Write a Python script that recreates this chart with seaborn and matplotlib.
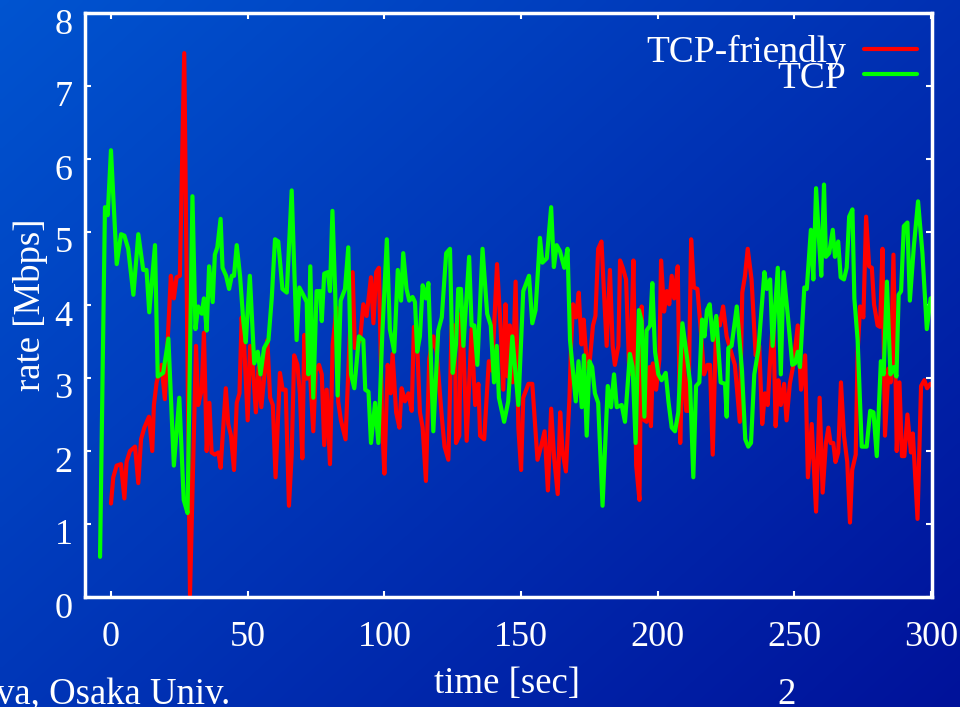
import numpy as np
import pandas as pd
import matplotlib
matplotlib.use("Agg")
import matplotlib.pyplot as plt
import matplotlib.transforms as mtransforms
from matplotlib.colors import LinearSegmentedColormap
import seaborn as sns

# ---------------- data ----------------
friendly_time = [0, 0.85, 2.07, 3.66, 4.9, 5.7, 6.95, 8.8, 10.0, 11.0, 12.2, 13.9, 15.1, 15.7, 16.7, 18.5, 19.7,
                 21.9, 23.0, 24.0, 25.2, 26.8, 28.9, 31.1, 31.9, 33.2, 34.0, 35.0, 36.0, 36.8, 38.0, 39.3, 40.1,
                 42.0, 42.9, 43.9, 45.0, 46.0, 47.0, 47.8, 48.7, 50.0, 50.9, 51.7, 53.0, 54.0, 55.0, 56.4, 57.2,
                 58.2, 59.2, 60.2, 61.8, 62.8, 63.9, 65.1, 66.1, 67.0, 68.2, 69.1, 70.0, 70.7, 71.6, 72.8, 74.0,
                 74.9, 76.1, 77.1, 78.0, 78.9, 80.1, 81.1, 82.5, 83.1, 84.1, 85.8, 87.2, 88.4, 89.2, 91.1, 92.3,
                 93.5, 95.1, 96.0, 97.0, 98.0, 99.2, 100.0, 101.2, 102.3, 103.0, 104.3, 105.5, 106.3, 107.5, 108.8,
                 110.0, 110.8, 112.1, 113.0, 114.0, 115.2, 116.4, 117.9, 119.1, 121.0, 122.0, 123.4, 124.6, 125.8,
                 126.2, 127.4, 128.0, 128.9, 130.1, 131.9, 133.2, 134.4, 135.0, 136.5, 138.2, 139.4, 141.2, 142.5,
                 143.5, 144.3, 145.1, 145.9, 146.9, 148.0, 149.0, 150.0, 150.8, 152.7, 154.1, 156.0, 157.3, 158.6,
                 159.8, 161.0, 162.1, 163.4, 164.3, 165.2, 166.4, 167.7, 168.3, 169.0, 170.1, 171.1, 172.1, 172.9,
                 173.9, 174.8, 176.3, 177.2, 178.2, 179.4, 181.3, 182.5, 183.5, 184.3, 185.6, 186.2, 187.2, 188.4,
                 189.6, 190.2, 191.1, 192.1, 193.3, 194.1, 195.1, 195.9, 197.0, 197.5, 198.2, 199.4, 200.6, 201.2,
                 202.3, 203.3, 204.2, 205.1, 206.0, 207.3, 208.2, 209.2, 210.4, 211.2, 212.2, 213.2, 214.5, 215.7,
                 216.9, 218.2, 219.1, 220.1, 221.4, 222.7, 223.9, 225.2, 226.4, 228.2, 230.0, 230.9, 231.9, 232.9,
                 234.3, 235.8, 237.1, 238.2, 239.2, 240.2, 241.0, 242.2, 243.1, 244.1, 245.0, 246.2, 247.1, 248.3,
                 249.6, 251.2, 252.4, 253.9, 254.9, 256.3, 257.9, 259.2, 260.3, 261.5, 262.4, 263.2, 264.2, 265.0,
                 266.0, 267.0, 268.1, 269.3, 270.3, 271.1, 272.4, 273.1, 274.0, 275.2, 276.2, 277.3, 278.3, 279.1,
                 280.4, 281.3, 282.2, 283.1, 284.4, 285.2, 286.2, 287.4, 288.4, 289.3, 290.2, 291.3, 292.6, 293.3,
                 295.0, 296.3, 297.5, 298.5, 299.7]
friendly_rate = [1.28, 1.64, 1.80, 1.82, 1.35, 1.85, 2.00, 2.06, 1.56, 2.16, 2.32, 2.47, 2.00, 2.63, 2.94, 3.18, 2.71,
                 4.40, 4.09, 4.38, 4.40, 7.45, 0.03, 3.44, 2.63, 2.84, 3.62, 2.00, 2.66, 1.98, 1.95, 1.98, 1.77,
                 2.86, 2.37, 2.21, 1.74, 2.66, 2.79, 3.83, 3.46, 2.42, 3.44, 3.26, 2.53, 3.15, 2.60, 3.15, 3.52,
                 2.73, 2.63, 1.64, 3.07, 2.84, 2.84, 1.25, 1.95, 3.31, 3.18, 2.79, 1.90, 3.59, 2.99, 3.05, 2.27,
                 3.10, 3.18, 3.05, 2.08, 2.84, 1.82, 3.46, 3.96, 2.68, 2.42, 2.16, 3.46, 4.45, 3.41, 3.52, 4.01,
                 3.85, 4.38, 3.75, 4.45, 4.51, 2.37, 1.69, 3.18, 2.79, 3.33, 2.53, 2.32, 2.86, 2.68, 2.79,
                 2.55, 3.70, 3.36, 2.53, 2.32, 1.59, 3.26, 3.57, 3.36, 2.47, 2.06, 1.88, 3.72, 3.72,
                 2.11, 2.21, 3.88, 3.46, 2.14, 3.67, 2.63, 2.92, 2.21, 2.16, 3.23, 3.10, 4.56, 3.70,
                 2.84, 4.01, 3.02, 3.72, 2.94, 4.32, 2.32, 1.74, 2.73, 2.92, 2.92, 1.88, 2.06, 2.27,
                 1.46, 2.58, 1.90, 1.41, 2.53, 1.98, 1.72, 2.73, 3.46, 4.01, 3.83, 4.17, 3.46, 3.80,
                 3.26, 3.10, 3.72, 3.85, 4.77, 4.87, 3.44, 4.48, 3.44, 3.18, 3.44, 4.61, 4.51, 4.35,
                 3.05, 3.36, 4.61, 1.80, 1.33, 3.98, 2.42, 2.40, 3.15, 2.34, 3.20, 2.84, 3.26, 4.61,
                 3.91, 4.19, 4.01, 4.40, 4.09, 4.53, 2.11, 3.46, 2.55, 2.55, 4.90, 4.24, 4.22, 3.67,
                 3.05, 3.18, 3.18, 1.95, 3.83, 3.72, 3.98, 3.57, 3.41, 3.18, 2.40, 4.17, 4.40, 4.77,
                 4.35, 3.31, 3.44, 2.37, 2.79, 2.63, 3.18, 3.83, 2.34, 2.97, 2.63, 2.92, 2.42, 2.92,
                 3.18, 3.72, 2.84, 3.31, 1.64, 2.37, 1.17, 2.73, 1.43, 2.11, 2.32, 2.11, 2.11, 1.85,
                 1.98, 2.94, 2.21, 1.85, 1.02, 1.74, 1.95, 3.36, 3.98, 3.83, 5.21, 4.53, 4.51, 4.01,
                 3.72, 3.70, 4.77, 2.21, 3.13, 2.94, 4.69, 2.00, 2.94, 1.93, 1.93, 2.50, 1.98, 2.24,
                 1.07, 2.89, 2.97, 2.86, 2.92]

tcp_time = [-4.0, -2.2, -1.2, 0, 2.1, 3.7, 4.9, 6.3, 8.2, 10.0, 11.8, 13.0, 14.0, 16.1, 17.1, 19.1, 21.0, 23.0,
            25.0, 26.6, 28.0, 29.8, 30.9, 31.9, 33.2, 34.0, 35.0, 35.9, 37.2, 38.0, 38.9, 40.1, 40.8, 42.1, 43.2,
            44.2, 45.0, 46.0, 47.2, 48.4, 49.3, 50.8, 52.4, 53.7, 54.7, 56.0, 57.6, 58.8, 60.0, 61.2, 62.7, 64.3,
            66.1, 67.9, 68.9, 70.3, 71.6, 72.2, 72.9, 74.0, 75.2, 76.5, 77.1, 78.0, 79.3, 80.1, 81.0, 82.0, 82.9,
            84.0, 85.6, 86.8, 87.8, 89.0, 90.7, 92.3, 93.0, 94.2, 95.1, 96.6, 97.8, 99.2, 100.9, 102.0, 103.6,
            104.9, 106.1, 106.9, 108.1, 109.1, 110.3, 111.2, 112.0, 113.0, 114.0, 115.2, 116.1, 117.9, 119.7,
            121.0, 122.6, 124.0, 125.0, 126.2, 127.0, 128.0, 128.9, 131.0, 131.9, 132.9, 134.0, 135.9, 137.6,
            138.9, 140.1, 141.1, 141.9, 143.8, 145.3, 146.8, 149.0, 150.8, 152.9, 154.1, 155.3, 156.9, 157.8,
            159.4, 161.0, 162.0, 163.0, 164.2, 165.8, 167.0, 167.9, 170.0, 171.0, 172.2, 173.0, 174.0, 175.0,
            176.0, 177.0, 178.2, 179.8, 181.7, 182.9, 184.0, 185.0, 186.8, 188.0, 189.8, 190.8, 191.9, 193.1,
            194.1, 195.1, 195.9, 197.2, 198.0, 199.0, 200.2, 201.4, 202.9, 203.9, 205.1, 206.3, 207.5, 209.0,
            210.6, 211.8, 213.0, 214.0, 215.2, 216.2, 217.1, 218.0, 219.0, 220.1, 221.4, 223.0, 224.6, 225.2,
            225.8, 227.0, 228.9, 230.8, 232.0, 233.1, 234.1, 235.3, 236.8, 239.0, 239.9, 241.1, 242.0, 243.9,
            245.0, 246.0, 247.5, 249.2, 250.2, 251.2, 252.0, 253.6, 254.5, 256.0, 256.9, 257.9, 259.0, 259.8,
            260.8, 261.5, 262.7, 264.0, 264.8, 266.0, 266.9, 268.1, 269.1, 270.0, 271.2, 271.9, 273.1, 274.6,
            276.4, 277.7, 278.9, 280.1, 281.6, 282.6, 283.8, 285.1, 286.3, 287.3, 288.1, 289.0, 290.0, 291.3,
            292.2, 293.7, 295.2, 296.8, 298.4, 299.8, 300.5]
tcp_rate = [0.55, 5.34, 5.23, 6.12, 4.56, 4.97, 4.95, 4.77, 4.14, 4.97, 4.48, 4.48, 3.90, 4.82, 3.02, 3.07, 3.54, 1.80,
            2.73, 1.33, 1.15, 5.49, 3.67, 3.98, 3.88, 4.09, 3.65, 4.53, 4.04, 4.69, 4.79, 5.18, 4.51, 4.40, 4.22,
            4.40, 4.40, 4.82, 4.40, 3.78, 3.49, 4.40, 3.20, 3.36, 3.05, 3.41, 3.52, 4.09, 4.90, 4.87, 4.22, 4.17,
            5.57, 3.52, 4.24, 4.14, 4.04, 3.05, 4.53, 2.73, 4.19, 4.19, 3.78, 4.43, 4.45, 4.19, 5.29, 4.19, 2.76,
            4.06, 4.22, 4.79, 3.05, 2.86, 3.57, 3.52, 2.84, 2.81, 2.11, 2.66, 2.11, 3.57, 4.90, 3.67, 3.36,
            4.48, 4.06, 4.71, 4.22, 4.06, 4.11, 4.04, 3.36, 3.57, 4.27, 4.09, 4.30, 2.27, 3.65,
            3.83, 4.71, 4.77, 3.07, 3.46, 4.22, 4.22, 3.44, 4.66, 3.72, 3.72, 3.18, 4.77, 3.88,
            3.72, 2.94, 3.44, 2.73, 2.40, 2.68, 3.57, 2.63, 4.19, 4.40, 3.75, 3.93, 4.92, 4.58,
            4.64, 5.34, 4.52, 4.82, 4.74, 4.51, 4.77, 3.52, 2.68, 3.23, 2.60, 3.31, 2.21, 3.23,
            3.15, 2.79, 2.66, 1.25, 2.89, 2.60, 3.05, 2.60, 2.63, 2.40, 3.33, 3.15, 2.11, 3.93,
            3.78, 2.47, 3.65, 3.72, 4.30, 3.36, 3.05, 2.97, 3.07, 2.68, 2.32, 2.27, 2.53, 3.75,
            3.31, 2.94, 1.64, 2.89, 2.94, 3.80, 3.57, 3.93, 4.01, 3.52, 3.85, 2.94, 2.92, 2.47,
            3.41, 3.44, 3.98, 3.10, 2.16, 2.06, 2.11, 3.05, 3.39, 4.45, 4.22, 4.35, 3.44, 4.51,
            3.05, 4.45, 3.88, 3.18, 3.20, 3.36, 3.15, 4.24, 4.22, 5.03, 4.35, 5.60, 4.87, 4.40,
            5.65, 4.66, 4.71, 5.03, 4.66, 4.87, 4.38, 4.35, 4.51, 5.21, 5.31, 4.09, 3.52, 2.06,
            2.06, 2.55, 2.53, 1.93, 3.23, 3.05, 4.32, 3.05, 3.15, 3.02, 4.14, 4.19, 5.08, 5.13,
            4.06, 4.82, 5.42, 4.71, 3.67, 4.09, 4.10]

series_names = ["TCP-friendly", "TCP"]
series_colors = ["#ff0000", "#00ff00"]
x_ticks = [0, 50, 100, 150, 200, 250, 300]
y_ticks = [0, 1, 2, 3, 4, 5, 6, 7, 8]

# ---------------- style ----------------
sns.set_style("ticks")
plt.rcParams['font.family'] = ['Liberation Serif', 'DejaVu Serif']
plt.rcParams['font.size'] = 26
plt.rcParams['text.color'] = 'white'
W, H = 960, 707
TICK_FS = 26
LABEL_FS = 26.5
LEG_FS = 27

fig = plt.figure(figsize=(W / 100, H / 100), dpi=100)

# gradient background
bg = fig.add_axes([0, 0, 1, 1], zorder=0)
yy, xx = np.mgrid[0:1:200j, 0:1:270j]
grad = 0.55 * xx + 0.45 * yy
cmap = LinearSegmentedColormap.from_list("bg", ["#0054D0", "#00129A"])
bg.imshow(grad, cmap=cmap, aspect='auto', extent=[0, 1, 0, 1], origin='upper', interpolation='bilinear')
bg.axis('off')

L, R, T, B = 85, 932, 13, 597
ax = fig.add_axes([L / W, 1 - B / H, (R - L) / W, (B - T) / H], zorder=1)
ax.set_facecolor('none')

df_f = pd.DataFrame({'time': friendly_time, 'rate': friendly_rate})
df_t = pd.DataFrame({'time': tcp_time, 'rate': tcp_rate})
sns.lineplot(data=df_f, x='time', y='rate', ax=ax, color=series_colors[0], linewidth=3,
             label=series_names[0], estimator=None, sort=False)
sns.lineplot(data=df_t, x='time', y='rate', ax=ax, color=series_colors[1], linewidth=3,
             label=series_names[1], estimator=None, sort=False)

ax.set_xlim(-9.5, 300.3)
ax.set_ylim(0, 8)
ax.set_xticks(x_ticks)
ax.set_yticks(y_ticks)
ax.set_xticklabels([str(v) for v in x_ticks])
ax.set_yticklabels([str(v) for v in y_ticks])

for s in ax.spines.values():
    s.set_color('white')
    s.set_linewidth(2.5)
ax.tick_params(axis='both', direction='in', colors='white', length=4.5, width=1.5,
               top=True, right=True, labelsize=TICK_FS, labelcolor='white')
ax.tick_params(axis='x', pad=17)
ax.tick_params(axis='y', pad=9)

ax.set_xlabel('time [sec]', color='white', fontsize=LABEL_FS)
ax.set_ylabel('rate [Mbps]', color='white', fontsize=LABEL_FS)
ax.xaxis.set_label_coords((507 - L) / (R - L), -(667 - B) / (B - T))
ax.xaxis.label.set_va('top')
ax.yaxis.set_label_coords(-(L - 48) / (R - L), 0.5)

leg = ax.legend(loc='upper right', bbox_to_anchor=(1, 1 - 6.5 / (B - T)), frameon=False, markerfirst=False,
                fontsize=LEG_FS, handlelength=1.41, handletextpad=0.48, labelspacing=-0.23,
                borderpad=0.0, borderaxespad=0.4)
for txt in leg.get_texts():
    txt.set_color('white')
for ln in leg.get_lines():
    ln.set_linewidth(3)

fig.text(-0.004, 0.004, 'va, Osaka Univ.', ha='left', va='baseline', fontsize=LABEL_FS, color='white')
fig.text(787 / W, 0.004, '2', ha='center', va='baseline', fontsize=LABEL_FS, color='white')

# shift y tick labels slightly downward like the reference
off = mtransforms.ScaledTranslation(0, -8 / 100, fig.dpi_scale_trans)
for t in ax.get_yticklabels():
    t.set_transform(t.get_transform() + off)

fig.savefig('out.png', dpi=100)
